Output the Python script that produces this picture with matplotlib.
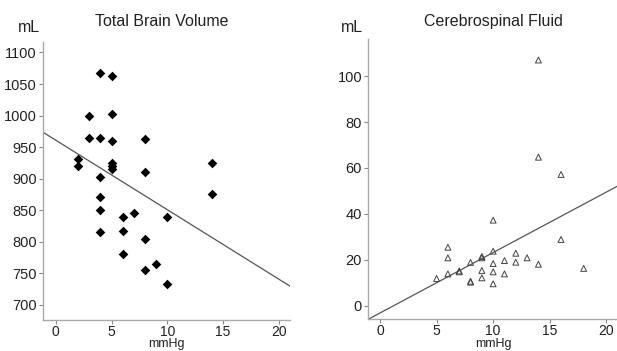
import matplotlib.pyplot as plt
import numpy as np

plt.rcParams["font.family"] = ["Liberation Sans", "DejaVu Sans"]

# Total brain volume (mL) vs pressure (mmHg)
TBV_X = [2, 2, 3, 3, 4, 4, 4, 4, 4, 4, 5, 5, 5, 5, 5, 5, 6, 6, 6, 7, 8, 8, 8, 8, 9, 10, 10, 14, 14]
TBV_Y = [932, 920, 1000, 965, 1068, 965, 902, 871, 851, 815, 1062, 1002, 960, 925, 920, 916,
         840, 817, 780, 845, 963, 911, 805, 756, 765, 840, 734, 925, 876]
TBV_FIT = (961, -11.0)  # intercept, slope

# Cerebrospinal fluid (mL) vs pressure (mmHg)
CSF_X = [14, 14, 16, 10, 6, 6, 6, 5, 7, 7, 8, 8, 8, 9, 9, 9, 9, 10, 10, 10, 10, 11, 11, 12, 12, 13, 14, 16, 18]
CSF_Y = [107, 64.7, 57.2, 37.3, 25.5, 20.9, 13.9, 11.9, 14.8, 15.2, 18.9, 10.7, 10.3, 21.5, 20.9,
         15.4, 12.2, 23.8, 18.4, 14.8, 9.6, 19.7, 13.9, 22.9, 19.0, 20.9, 18.1, 28.9, 16.3]
CSF_FIT = (-3.1, 2.63)

X_TICKS = [0, 5, 10, 15, 20]
TBV_TICKS = [700, 750, 800, 850, 900, 950, 1000, 1050, 1100]
CSF_TICKS = [0, 20, 40, 60, 80, 100]


def styleAxes(ax, xlim, ylim, yticks):
	ax.set_xlim(*xlim)
	ax.set_ylim(*ylim)
	ax.set_xticks(X_TICKS)
	ax.set_yticks(yticks)
	for side in ["top", "right"]:
		ax.spines[side].set_visible(False)
	for side in ["left", "bottom"]:
		ax.spines[side].set_color("#aaaaaa")
		ax.spines[side].set_linewidth(1.0)
	ax.tick_params(axis="both", direction="out", length=3, width=0.8, color="#888888",
		labelsize=10.5, labelcolor="#222222", pad=1.5)
	ax.tick_params(axis="x", pad=0.5, labelsize=10)
	ax.set_xlabel("mmHg", fontsize=9, color="#222222", labelpad=-0.5)


def drawFit(ax, fit, xlim):
	xs = np.array(xlim)
	ax.plot(xs, fit[0] + fit[1] * xs, color="#555555", linewidth=0.9, zorder=1)


fig = plt.figure(figsize=(6.17, 3.51), dpi=100)

ax1 = fig.add_axes([0.0697, 0.088, 0.400, 0.793])
xlim1 = (-1.15, 21)
ax1.scatter(TBV_X, TBV_Y, marker="D", s=24, color="black", linewidths=0, zorder=2)
drawFit(ax1, TBV_FIT, xlim1)
styleAxes(ax1, xlim1, (676, 1117), TBV_TICKS)
fig.text(0.262, 0.94, "Total Brain Volume", ha="center", va="center", fontsize=11.5, color="#222222")
fig.text(0.029, 0.922, "mL", ha="left", va="center", fontsize=11.5, color="#222222")

ax2 = fig.add_axes([0.597, 0.090, 0.404, 0.798])
xlim2 = (-1.03, 21)
ax2.scatter(CSF_X, CSF_Y, marker="^", s=18, facecolor="none", edgecolor="#444444",
	linewidths=0.7, zorder=2)
drawFit(ax2, CSF_FIT, xlim2)
styleAxes(ax2, xlim2, (-5.9, 116), CSF_TICKS)
fig.text(0.80, 0.94, "Cerebrospinal Fluid", ha="center", va="center", fontsize=11.5, color="#222222")
fig.text(0.553, 0.922, "mL", ha="left", va="center", fontsize=11.5, color="#222222")

fig.savefig("out.png", dpi=100)
